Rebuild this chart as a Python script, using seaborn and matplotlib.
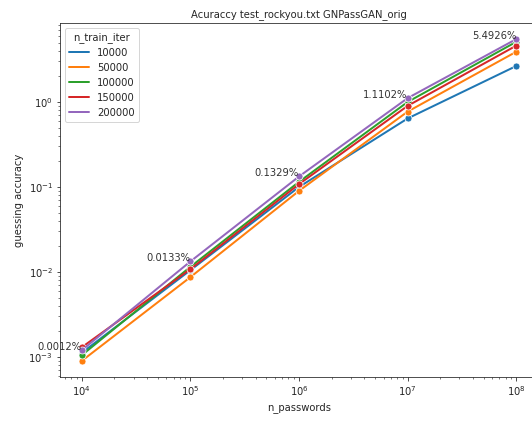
import numpy as np
import pandas as pd
import matplotlib
matplotlib.use("Agg")
import matplotlib.pyplot as plt
from matplotlib.lines import Line2D
import seaborn as sns

n_passwords = [1e4, 1e5, 1e6, 1e7, 1e8]
iters = [10000, 50000, 100000, 150000, 200000]
acc_10000 = [0.00112, 0.0105, 0.100, 0.64, 2.65]
acc_50000 = [0.00090, 0.0087, 0.090, 0.77, 3.90]
acc_100000 = [0.00105, 0.0115, 0.115, 1.00, 5.10]
acc_150000 = [0.00130, 0.0108, 0.108, 0.90, 4.60]
acc_200000 = [0.00120, 0.0133, 0.1329, 1.1102, 5.4926]
labels = ["0.0012%", "0.0133%", "0.1329%", "1.1102%", "5.4926%"]

series = [acc_10000, acc_50000, acc_100000, acc_150000, acc_200000]
rows = []
for it, vals in zip(iters, series):
    for n, v in zip(n_passwords, vals):
        rows.append({"n_passwords": n, "guessing accuracy": v, "n_train_iter": it})
df = pd.DataFrame(rows)

sns.set_style("ticks")
plt.rcParams["font.family"] = ["DejaVu Sans"]
fig = plt.figure(figsize=(532 / 72, 423 / 72), dpi=72)
ax = fig.add_axes([60 / 532, 1 - 377 / 423, 478 / 532, 354 / 423])
palette = sns.color_palette("tab10", len(iters))
sns.lineplot(data=df, x="n_passwords", y="guessing accuracy", hue="n_train_iter",
             palette=palette, marker="o", markersize=7, linewidth=2, ax=ax)
ax.set_xscale("log")
ax.set_yscale("log")
for n, v, t in zip(n_passwords, acc_200000, labels):
    ax.text(n, v, t, ha="right", va="baseline", fontsize=10, color="#333333")
ax.set_title("Acuraccy test_rockyou.txt GNPassGAN_orig", fontsize=10)
handles = [Line2D([], [], color=c, lw=2) for c in palette]
ax.legend(handles, [str(i) for i in iters], title="n_train_iter", loc="upper left")
fig.savefig("out.png", dpi=72)
